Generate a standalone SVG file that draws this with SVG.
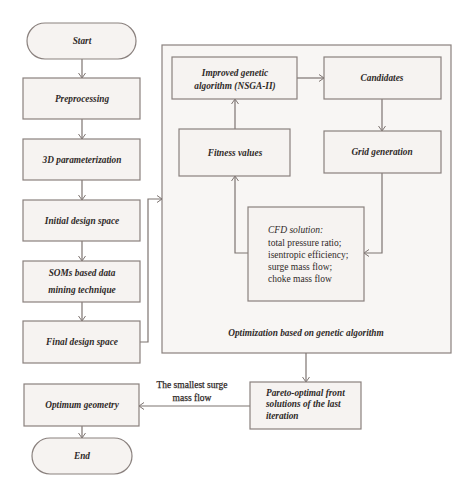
<svg xmlns="http://www.w3.org/2000/svg" width="474" height="498" viewBox="0 0 474 498">
<defs>
<style>
.box{fill:#f6f3f1;stroke:#8a817e;stroke-width:1.2}
.cont{fill:#f8f6f4;stroke:#8a817e;stroke-width:1.2}
.t{font-family:"Liberation Serif",serif;font-style:italic;font-weight:bold;font-size:9.3px;fill:#2f2a28;text-anchor:middle}
.r{font-family:"Liberation Serif",serif;font-size:9.5px;fill:#2f2a28;stroke:#2f2a28;stroke-width:0.25}
.c{fill:none;stroke:#7d7471;stroke-width:1.2}
</style>
<marker id="a" markerWidth="7" markerHeight="8" refX="5.5" refY="4" orient="auto" markerUnits="userSpaceOnUse">
<path d="M0.5,0.5 L5.5,4 L0.5,7.5" fill="none" stroke="#7d7471" stroke-width="1"/>
</marker>
</defs>
<rect width="474" height="498" fill="#ffffff"/>
<g id="container">
<rect class="cont" x="162" y="45" width="289" height="308"/>
<text class="t" x="306" y="336">Optimization based on genetic algorithm</text>
</g>
<g id="connectors">
<line class="c" x1="82" y1="59" x2="82" y2="78" marker-end="url(#a)"/>
<line class="c" x1="82" y1="119" x2="82" y2="139" marker-end="url(#a)"/>
<line class="c" x1="82" y1="180" x2="82" y2="200" marker-end="url(#a)"/>
<line class="c" x1="82" y1="241" x2="82" y2="261" marker-end="url(#a)"/>
<line class="c" x1="82" y1="302" x2="82" y2="321" marker-end="url(#a)"/>
<polyline class="c" points="140,342 148,342 148,199 162,199" marker-end="url(#a)"/>
<line class="c" x1="297" y1="78" x2="324" y2="78" marker-end="url(#a)"/>
<line class="c" x1="382" y1="99" x2="382" y2="131" marker-end="url(#a)"/>
<line class="c" x1="235" y1="129" x2="235" y2="99" marker-end="url(#a)"/>
<polyline class="c" points="382,173 382,253 364,253" marker-end="url(#a)"/>
<polyline class="c" points="248,253 235,253 235,176" marker-end="url(#a)"/>
<line class="c" x1="306" y1="353" x2="306" y2="382" marker-end="url(#a)"/>
<line class="c" x1="250" y1="406" x2="139" y2="406" marker-end="url(#a)"/>
<line class="c" x1="82" y1="426" x2="82" y2="438" marker-end="url(#a)"/>
<text class="r" x="192" y="388" text-anchor="middle">The smallest surge</text>
<text class="r" x="192" y="401" text-anchor="middle">mass flow</text>
</g>
<g id="start">
<rect class="box" x="27" y="23" width="109" height="36" rx="18"/>
<text class="t" x="82" y="44">Start</text>
</g>
<g id="preprocessing">
<rect class="box" x="23" y="78" width="117" height="41"/>
<text class="t" x="82" y="102">Preprocessing</text>
</g>
<g id="param3d">
<rect class="box" x="23" y="139" width="117" height="41"/>
<text class="t" x="82" y="163">3D parameterization</text>
</g>
<g id="initial">
<rect class="box" x="23" y="200" width="117" height="41"/>
<text class="t" x="82" y="224">Initial design space</text>
</g>
<g id="soms">
<rect class="box" x="23" y="261" width="117" height="41"/>
<text class="t" x="82" y="276">SOMs based data</text>
<text class="t" x="82" y="293">mining technique</text>
</g>
<g id="final">
<rect class="box" x="23" y="321" width="117" height="42"/>
<text class="t" x="82" y="345">Final design space</text>
</g>
<g id="optimum">
<rect class="box" x="24" y="384" width="115" height="42"/>
<text class="t" x="82" y="408">Optimum geometry</text>
</g>
<g id="end">
<rect class="box" x="32" y="438" width="100" height="36" rx="18"/>
<text class="t" x="82" y="459">End</text>
</g>
<g id="nsga">
<rect class="box" x="172" y="57" width="125" height="42"/>
<text class="t" x="235" y="76">Improved genetic</text>
<text class="t" x="235" y="89">algorithm (NSGA-II)</text>
</g>
<g id="candidates">
<rect class="box" x="324" y="57" width="117" height="42"/>
<text class="t" x="382" y="81">Candidates</text>
</g>
<g id="fitness">
<rect class="box" x="179" y="129" width="111" height="47"/>
<text class="t" x="235" y="156">Fitness values</text>
</g>
<g id="grid">
<rect class="box" x="324" y="131" width="117" height="42"/>
<text class="t" x="382" y="155">Grid generation</text>
</g>
<g id="cfd">
<rect class="box" x="248" y="207" width="116" height="94"/>
<text x="268" y="233" style="font-family:'Liberation Serif',serif;font-style:italic;font-size:9.5px;fill:#2f2a28">CFD solution:</text>
<text x="268" y="246" style="font-family:'Liberation Serif',serif;font-size:9.5px;fill:#2f2a28">total pressure ratio;</text>
<text x="268" y="258" style="font-family:'Liberation Serif',serif;font-size:9.5px;fill:#2f2a28">isentropic efficiency;</text>
<text x="268" y="270" style="font-family:'Liberation Serif',serif;font-size:9.5px;fill:#2f2a28">surge mass flow;</text>
<text x="268" y="282" style="font-family:'Liberation Serif',serif;font-size:9.5px;fill:#2f2a28">choke mass flow</text>
</g>
<g id="pareto">
<rect class="box" x="250" y="382" width="111" height="47"/>
<text class="t" x="266" y="396" style="text-anchor:start">Pareto-optimal front</text>
<text class="t" x="266" y="407" style="text-anchor:start">solutions of the last</text>
<text class="t" x="266" y="419" style="text-anchor:start">iteration</text>
</g>
</svg>
